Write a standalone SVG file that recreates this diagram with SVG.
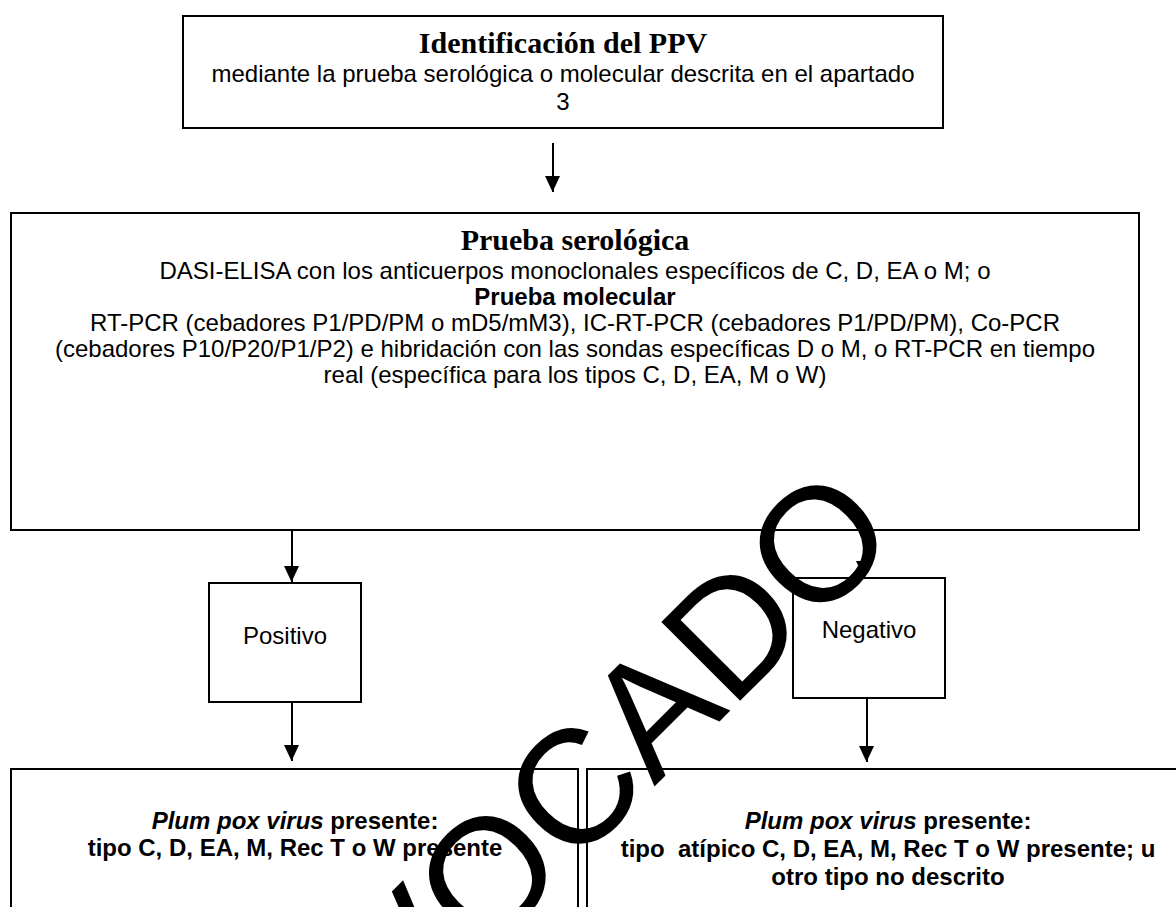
<svg xmlns="http://www.w3.org/2000/svg" width="1176" height="907" viewBox="0 0 1176 907">
<defs>
<style>
.box{fill:none;stroke:#000;stroke-width:2}
.t{font-family:"Liberation Sans",Arial,sans-serif;font-size:24px;fill:#000;text-anchor:middle}
.b{font-weight:bold}
.h{font-family:"Liberation Serif","Times New Roman",serif;font-size:30px;font-weight:bold;fill:#000;text-anchor:middle}
.conn{stroke:#000;stroke-width:2;fill:none}
.wm{font-family:"Liberation Sans",Arial,sans-serif;font-size:162px;fill:#000}
</style>
<marker id="ah" viewBox="0 0 15 16" markerWidth="15" markerHeight="16" refX="8" refY="16" orient="0" markerUnits="userSpaceOnUse">
<path d="M0,0 L15,0 L7.5,16 z" fill="#000"/>
</marker>
</defs>
<rect width="1176" height="907" fill="#fff"/>

<g id="connectors">
<line class="conn" x1="553" y1="143" x2="553" y2="192" marker-end="url(#ah)"/>
<line class="conn" x1="292" y1="531" x2="292" y2="582" marker-end="url(#ah)"/>
<line class="conn" x1="292" y1="703" x2="292" y2="761" marker-end="url(#ah)"/>
<line class="conn" x1="864" y1="531" x2="864" y2="577" marker-end="url(#ah)"/>
<line class="conn" x1="867" y1="699" x2="867" y2="762" marker-end="url(#ah)"/>
</g>

<g id="identificacion">
<rect class="box" x="183" y="16" width="760" height="112"/>
<text class="h" x="563" y="53">Identificación del PPV</text>
<text class="t" x="563" y="82">mediante la prueba serológica o molecular descrita en el apartado</text>
<text class="t" x="563" y="110">3</text>
</g>

<g id="pruebas">
<rect class="box" x="11" y="213" width="1128" height="317"/>
<text class="h" x="575" y="250">Prueba serológica</text>
<text class="t" x="575" y="279">DASI-ELISA con los anticuerpos monoclonales específicos de C, D, EA o M; o</text>
<text class="t b" x="575" y="305">Prueba molecular</text>
<text class="t" x="575" y="331">RT-PCR (cebadores P1/PD/PM o mD5/mM3), IC-RT-PCR (cebadores P1/PD/PM), Co-PCR</text>
<text class="t" x="575" y="357">(cebadores P10/P20/P1/P2) e hibridación con las sondas específicas D o M, o RT-PCR en tiempo</text>
<text class="t" x="575" y="383">real (específica para los tipos C, D, EA, M o W)</text>
</g>

<g id="positivo">
<rect class="box" x="209" y="583" width="152" height="119"/>
<text class="t" x="285" y="644">Positivo</text>
</g>

<g id="negativo">
<rect class="box" x="793" y="578" width="152" height="120"/>
<text class="t" x="869" y="638">Negativo</text>
</g>

<g id="resultado-positivo">
<path class="box" d="M11,910 V769 H578 V910"/>
<text class="t b" x="295" y="829"><tspan font-style="italic">Plum pox virus</tspan> presente:</text>
<text class="t b" x="295" y="856">tipo C, D, EA, M, Rec T o W presente</text>
</g>

<g id="resultado-negativo">
<path class="box" d="M587,910 V769 H1178"/>
<text class="t b" x="888" y="829"><tspan font-style="italic">Plum pox virus</tspan> presente:</text>
<text class="t b" x="888" y="857" xml:space="preserve">tipo  atípico C, D, EA, M, Rec T o W presente; u</text>
<text class="t b" x="888" y="885">otro tipo no descrito</text>
</g>

<g id="watermark">
<text class="wm" x="406" y="1035" transform="rotate(-45 406 1035)">VOCADO</text>
</g>
</svg>
